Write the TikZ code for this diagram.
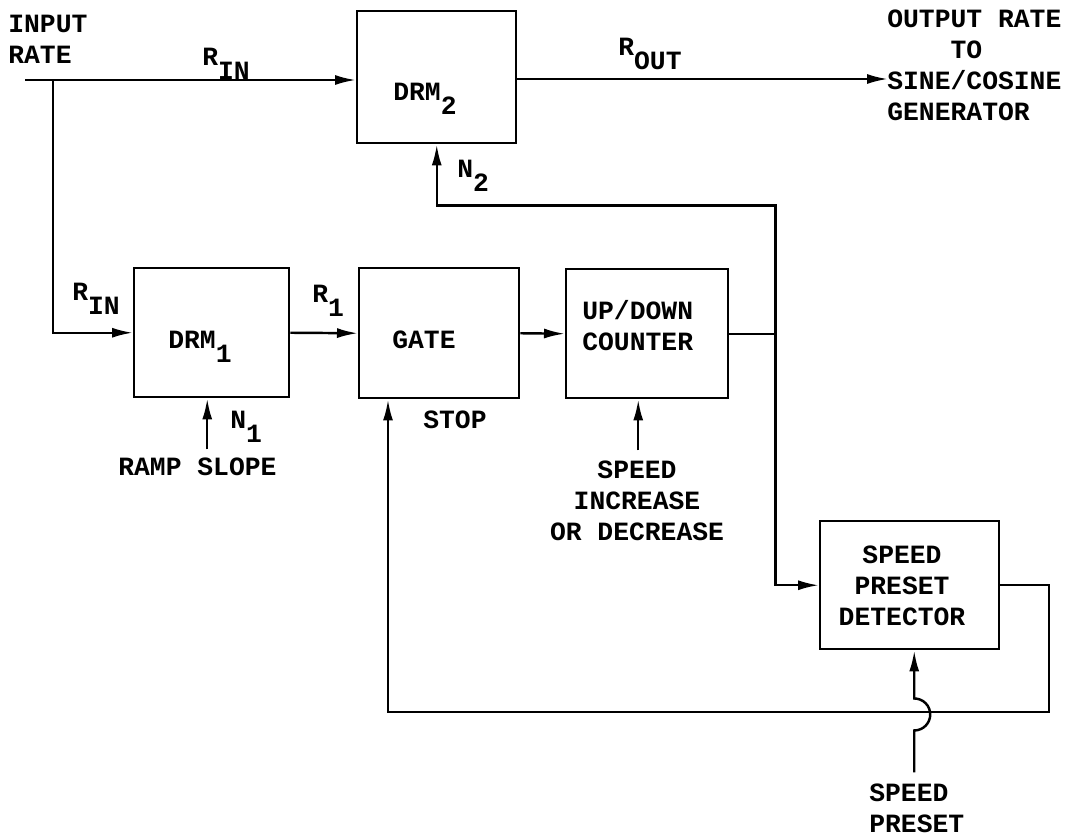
\documentclass[tikz,border=0pt]{standalone}
\usepackage{fontspec}
\newfontfamily\typefont{Liberation Mono}
\usetikzlibrary{arrows.meta}
\newcommand{\lowtt}[1]{\raisebox{-0.55em}{#1}}

\begin{document}
\begin{tikzpicture}[font=\typefont\bfseries\fontsize{15}{17.5}\selectfont,
    blk/.style ={draw, line width=1.4pt, anchor=north west, inner sep=0pt},
    wire/.style={line width=1.4pt},
    sig/.style ={wire, -{Latex[length=0.42cm,width=0.2cm]}},
    lbl/.style ={inner sep=0pt, anchor=base west, align=left},
  ]
  \useasboundingbox (0,0) rectangle (21.42,-16.76);

  % blocks
  \node[blk, minimum width=3.18cm, minimum height=2.64cm] (drmtwo) at (7.12,-0.20) {};
  \node[blk, minimum width=3.10cm, minimum height=2.58cm] (drmone) at (2.66,-5.34) {};
  \node[blk, minimum width=3.20cm, minimum height=2.60cm] (gate) at (7.16,-5.34) {};
  \node[blk, minimum width=3.24cm, minimum height=2.58cm] (counter) at (11.30,-5.36) {};
  \node[blk, minimum width=3.58cm, minimum height=2.56cm] (detector) at (16.38,-10.40) {};

  % block texts (base = last line)
  \node[lbl] (drmtwotxt) at (7.86,-2.00) {DRM\lowtt{2}};
  \node[lbl] (drmonetxt) at (3.36,-6.96) {DRM\lowtt{1}};
  \node[lbl] (gatetxt) at (7.84,-6.96) {GATE};
  \node[lbl] (countertxt) at (11.64,-7.00) {UP/DOWN\\COUNTER};
  \node[lbl, anchor=base, align=center] (detectortxt) at (18.04,-12.50) {SPEED\\PRESET\\DETECTOR};

  % input rate and top path
  \coordinate (in) at (0.50,-1.60);
  \coordinate (split) at (1.06,-1.60);
  \coordinate (out) at (17.76,-1.58);
  \node[lbl] (inputtxt) at (0.16,-1.26) {INPUT\\RATE};
  \draw[sig] (in) -- (in -| drmtwo.west);
  \node[lbl] (rintop) at (4.04,-1.30) {R\lowtt{IN}};
  \draw[sig] (out -| drmtwo.east) -- (out);
  \node[lbl] (routtxt) at (12.36,-1.10) {R\lowtt{OUT}};
  \node[lbl] (outputtxt) at (17.74,-2.40) {OUTPUT RATE\\\phantom{OUTP}TO\\SINE/COSINE\\GENERATOR};

  % lower chain
  \draw[sig] (split) |- (drmone.west);
  \node[lbl] (rinlow) at (1.44,-6.00) {R\lowtt{IN}};
  \draw[sig] (drmone.east) -- (gate.west);
  \node[lbl] (ronetxt) at (6.24,-6.04) {R\lowtt{1}};
  \draw[sig] (gate.east) -- (counter.west);
  \draw[wire] (counter.east) -- ++(0.92,0) coordinate (bus);
  \draw[sig] (bus) |- ([yshift=-1.22cm]drmtwo.south) -- (drmtwo.south);
  \node[lbl] (ntwotxt) at (9.14,-3.54) {N\lowtt{2}};
  \draw[sig] (bus) |- (detector.west);

  % side inputs
  \draw[sig] ([xshift=-0.09cm,yshift=-1.02cm]drmone.south) -- ([xshift=-0.09cm]drmone.south);
  \node[lbl] (nonetxt) at (4.60,-8.56) {N\lowtt{1}};
  \node[lbl] (ramptxt) at (2.36,-9.50) {RAMP SLOPE};
  \draw[sig] ([xshift=-0.18cm,yshift=-1.02cm]counter.south) -- ([xshift=-0.18cm]counter.south);
  \node[lbl, anchor=base, align=center] (speedtxt) at (12.74,-10.80) {SPEED\\INCREASE\\OR DECREASE};

  % stop feedback loop
  \coordinate (fbturn) at (20.98,-14.24);
  \draw[sig] (detector.east) -| (fbturn) -| ([xshift=0.60cm]gate.south west);
  \node[lbl] (stoptxt) at (8.46,-8.56) {STOP};

  % speed preset input, hopping over the loop
  \coordinate (sptail) at ([xshift=0.09cm,yshift=-2.44cm]detector.south);
  \draw[sig] (sptail) -- ++(0,0.84) arc[start angle=-90, end angle=90, radius=0.32cm] -- ([xshift=0.09cm]detector.south);
  \node[lbl] (presettxt) at (17.38,-16.64) {SPEED\\PRESET};
\end{tikzpicture}
\end{document}
